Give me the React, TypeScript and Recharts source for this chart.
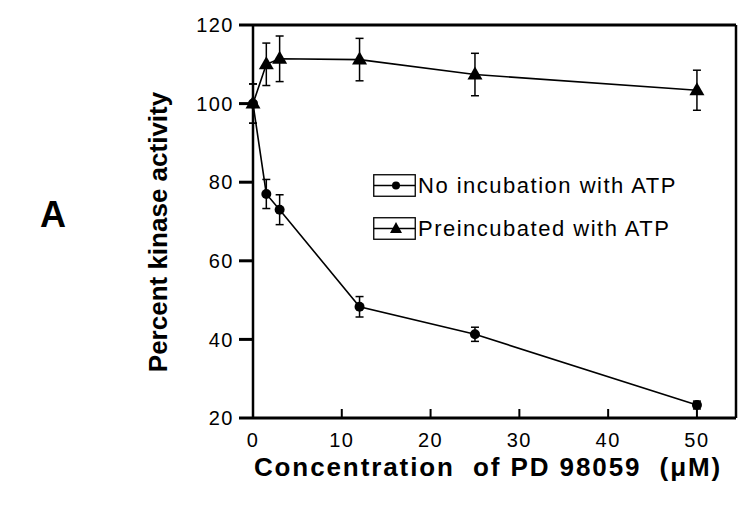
import React from 'react';
import { LineChart, Line, XAxis, YAxis, ErrorBar, ReferenceLine } from 'recharts';

const concentrations = [0, 1.5, 3, 12, 25, 50];
const noIncubation = [100, 77, 73, 48.3, 41.3, 23.3];
const noIncubationErr = [5, 3.7, 3.8, 2.6, 1.8, 1];
const preincubated = [100, 110, 111.4, 111.2, 107.4, 103.4];
const preincubatedErr = [5, 5.4, 5.8, 5.4, 5.4, 5.1];
const seriesNames = ['No incubation with ATP', 'Preincubated with ATP'];
const xTicks = [0, 10, 20, 30, 40, 50];
const yTicks = [20, 40, 60, 80, 100, 120];
const xMax = 54.4;

const data = concentrations.map((x, i) => ({
  x,
  noAtp: noIncubation[i],
  noAtpErr: noIncubationErr[i],
  pre: preincubated[i],
  preErr: preincubatedErr[i],
}));

const FONT = '"Liberation Sans", Arial, Helvetica, sans-serif';

const CircleDot = (props: any) => {
  const { cx, cy } = props;
  if (cx == null || cy == null) return null;
  return <circle cx={cx} cy={cy} r={5} fill="#000" />;
};

const TriangleDot = (props: any) => {
  const { cx, cy } = props;
  if (cx == null || cy == null) return null;
  return <polygon points={`${cx},${cy - 8} ${cx - 7.5},${cy + 5} ${cx + 7.5},${cy + 5}`} fill="#000" />;
};

// x ticks point inward (up from the axis), labels below
const XTick = (props: any) => {
  const { x, y, payload } = props;
  return (
    <g>
      {payload.value !== 0 && <line x1={x} y1={y} x2={x} y2={y - 9} stroke="#000" strokeWidth={2} />}
      <text
        x={x}
        y={y + 29}
        textAnchor="middle"
        fontFamily={FONT}
        fontSize={20}
        letterSpacing={1.5}
        fill="#000"
      >
        {payload.value}
      </text>
    </g>
  );
};

const LegendIcon = ({ kind }: { kind: 'circle' | 'triangle' }) => (
  <svg width={43} height={23} style={{ display: 'block' }}>
    <rect x={0.75} y={0.75} width={41.5} height={21.5} fill="none" stroke="#000" strokeWidth={1.3} />
    <line x1={1} y1={11.5} x2={42} y2={11.5} stroke="#000" strokeWidth={1.6} />
    {kind === 'circle' ? (
      <circle cx={23} cy={11.5} r={4} fill="#000" />
    ) : (
      <polygon points="23,5 17,16 29,16" fill="#000" />
    )}
  </svg>
);

export default function App() {
  const tickStyle = { fontFamily: FONT, fontSize: 20, fill: '#000', letterSpacing: 1.5 };
  return (
    <div style={{ position: 'absolute', left: 0, top: 0, width: 745, height: 505, background: '#fff' }}>
      <LineChart
        width={745}
        height={505}
        data={data}
        margin={{ top: 25, right: 9, bottom: 27, left: 193 }}
      >
        <XAxis
          dataKey="x"
          type="number"
          domain={[0, xMax]}
          ticks={xTicks}
          height={60}
          tickSize={0}
          tickMargin={0}
          tickLine={false}
          tick={<XTick />}
          axisLine={{ stroke: '#000', strokeWidth: 3 }}
        />
        <YAxis
          type="number"
          domain={[20, 120]}
          ticks={yTicks}
          width={60}
          tickSize={14}
          tickMargin={5}
          tick={tickStyle}
          axisLine={{ stroke: '#000', strokeWidth: 2.5 }}
          tickLine={{ stroke: '#000', strokeWidth: 3 }}
        />
        <ReferenceLine y={120} stroke="#000" strokeWidth={3} />
        <ReferenceLine x={xMax} stroke="#000" strokeWidth={2.5} />
        <Line
          dataKey="noAtp"
          name={seriesNames[0]}
          stroke="#000"
          strokeWidth={1.6}
          dot={<CircleDot />}
          isAnimationActive={false}
        >
          <ErrorBar dataKey="noAtpErr" direction="y" width={4} stroke="#000" strokeWidth={1.5} />
        </Line>
        <Line
          dataKey="pre"
          name={seriesNames[1]}
          stroke="#000"
          strokeWidth={1.6}
          dot={<TriangleDot />}
          isAnimationActive={false}
        >
          <ErrorBar dataKey="preErr" direction="y" width={4} stroke="#000" strokeWidth={1.5} />
        </Line>
      </LineChart>

      <div
        style={{
          position: 'absolute',
          left: 158,
          top: 232,
          transform: 'translate(-50%, -50%) rotate(-90deg)',
          whiteSpace: 'nowrap',
          fontFamily: FONT,
          fontWeight: 'bold',
          fontSize: 26,
          color: '#000',
        }}
      >
        Percent kinase activity
      </div>
      <div
        style={{
          position: 'absolute',
          left: 488,
          top: 467,
          transform: 'translate(-50%, -50%)',
          whiteSpace: 'pre',
          fontFamily: FONT,
          fontWeight: 'bold',
          fontSize: 26,
          letterSpacing: 1.9,
          color: '#000',
        }}
      >
        {'Concentration  of PD 98059  (\u03bcM)'}
      </div>
      <div
        style={{
          position: 'absolute',
          left: 53,
          top: 215,
          transform: 'translate(-50%, -50%)',
          fontFamily: FONT,
          fontWeight: 'bold',
          fontSize: 36,
          color: '#000',
        }}
      >
        A
      </div>
      <div style={{ position: 'absolute', left: 373, top: 174, fontFamily: FONT, fontSize: 22, letterSpacing: 1.5, color: '#000' }}>
        {seriesNames.map((name, i) => (
          <div key={name} style={{ display: 'flex', alignItems: 'center', height: 23, marginBottom: i === 0 ? 20 : 0 }}>
            <LegendIcon kind={i === 0 ? 'circle' : 'triangle'} />
            <span style={{ marginLeft: 2, whiteSpace: 'nowrap' }}>{name}</span>
          </div>
        ))}
      </div>
    </div>
  );
}
